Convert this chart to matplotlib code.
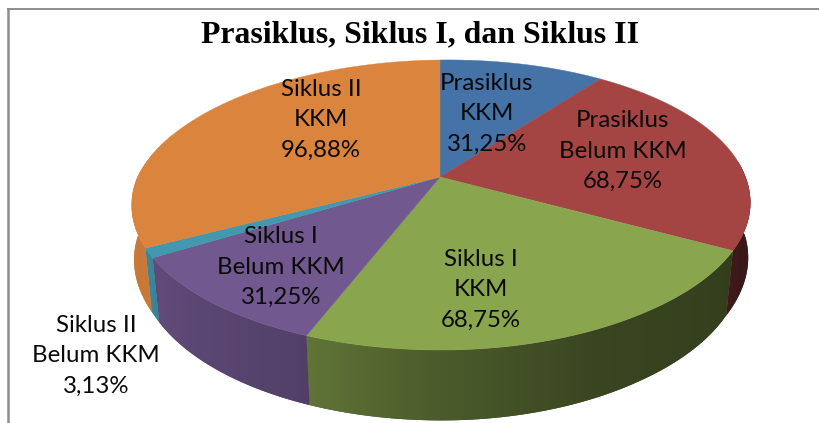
import numpy as np
import matplotlib
matplotlib.use('Agg')
import matplotlib.pyplot as plt
from matplotlib.patches import Polygon

title = 'Prasiklus, Siklus I, dan Siklus II'
names = ['Prasiklus\nKKM', 'Prasiklus\nBelum KKM', 'Siklus I\nKKM',
         'Siklus I\nBelum KKM', 'Siklus II\nBelum KKM', 'Siklus II\nKKM']
values = [31.25, 68.75, 68.75, 31.25, 3.13, 96.88]
value_text = ['31,25%', '68,75%', '68,75%', '31,25%', '3,13%', '96,88%']
colors = ['#4572a7', '#a54543', '#89a54e', '#71588f', '#4198af', '#db843d']
label_xy = [(487, 114), (623, 151), (481, 290), (281, 267), (96, 356), (321, 120)]

# pie geometry, in pixels of the reference
cx, cy = 440, 177
rx, ry, k = 304, 139.6, 0.193
shear = 0.012
lean = 0.05
depth = 60
shrink = 0.023


def top_edge(t):
    # t in degrees clockwise from 12 o'clock, perspective projection of the disc
    a = np.radians(t)
    w = 1 + k * np.cos(a)
    x = rx * np.sin(a) / w
    y = -ry * np.cos(a) / w - shear * x
    x = x + lean * np.maximum(y, 0) * (1 - 0.6 * np.clip(x / 200, 0, 1))
    return cx + x, cy + y


def bottom_edge(t):
    a = np.radians(t)
    w = 1 + k * np.cos(a)
    x, y = top_edge(t)
    # wall leans inward only towards the front of the pie
    s = 1 - shrink * np.clip((y - cy) / 75, 0, 1)
    return cx + (x - cx) * s, cy + (y - cy) * (1 - shrink) + depth / w


def shade(t):
    return np.interp(t, [85, 120, 155, 183, 202, 205, 240, 243, 265, 290],
                     [0.34, 0.38, 0.42, 0.56, 0.70, 0.74, 0.85, 0.88, 0.92, 0.95])


fig = plt.figure(figsize=(8.2, 4.23), dpi=100)
ax = fig.add_axes([0, 0, 1, 1])
ax.axis('off')

angles = np.concatenate([[0], np.cumsum(values)]) / sum(values) * 360

# side wall: a horizontal gradient clipped to the shape of each slice's wall
for i, c in enumerate(colors):
    rgb = np.array(matplotlib.colors.to_rgb(c))
    lo = max(angles[i], 85)
    hi = min(angles[i + 1], 290)
    if lo >= hi:
        continue
    ts = np.linspace(lo, hi, 200)
    xt, yt = top_edge(ts)
    xb, yb = bottom_edge(ts)
    pts = list(zip(xt, yt)) + list(zip(xb[::-1], yb[::-1]))
    poly = Polygon(pts, fc=rgb * shade((lo + hi) / 2), ec='none', zorder=2)
    ax.add_patch(poly)
    order = np.argsort(xb)
    left, right = min(xt.min(), xb.min()), max(xt.max(), xb.max())
    cols = np.linspace(left, right, 300)
    tcol = np.interp(cols, xb[order], ts[order])
    grad = shade(tcol)[None, :, None] * rgb[None, None, :]
    im = ax.imshow(grad, extent=(left, right, yb.max() + 2, yt.min() - 2),
                   aspect='auto', interpolation='bilinear', zorder=2.1)
    im.set_clip_path(poly)

ax.set_xlim(0, 820)
ax.set_ylim(423, 0)

# top of the pie
for i, c in enumerate(colors):
    ts = np.linspace(angles[i], angles[i + 1], 120)
    xs, ys = top_edge(ts)
    pts = [(cx, cy)] + list(zip(xs, ys))
    ax.add_patch(Polygon(pts, fc=c, ec=c, lw=0.3, zorder=3))

for name, val, (x, y) in zip(names, value_text, label_xy):
    ax.text(x, y, name + '\n' + val, ha='center', va='center', fontsize=17.3,
            family='Lato', linespacing=1.53, color='#0a0a0a', zorder=5)

ax.text(420, 35, title, ha='center', va='center', fontsize=22.9,
        family='Liberation Serif', fontweight='bold', color='black', zorder=5)

# chart frame, only top and left survive in the crop
ax.plot([8, 820], [9.5, 9.5], color='#8c8c8c', lw=1.4, zorder=1)
ax.plot([8.5, 8.5], [9.5, 423], color='#8c8c8c', lw=1.8, zorder=1)

fig.savefig('out.png', dpi=100)
